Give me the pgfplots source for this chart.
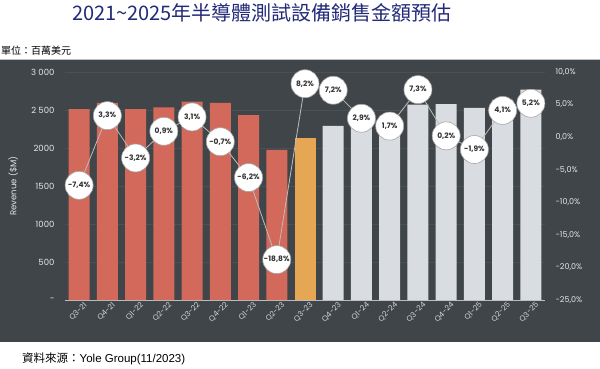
\documentclass[border=0pt]{standalone}
\usepackage{pgfplots}
\pgfplotsset{compat=1.18}
\usepackage{fontspec}
\setmainfont{Poppins}
\newfontfamily\cjk{Noto Sans CJK TC}
\newfontfamily\arial{Liberation Sans}
\definecolor{panel}{HTML}{3F4549}
\definecolor{gridc}{HTML}{4A5155}
\definecolor{barred}{HTML}{D2695B}
\definecolor{barorange}{HTML}{E6A754}
\definecolor{bargray}{HTML}{D9DCE0}
\definecolor{ticktext}{HTML}{E4E6E8}
\definecolor{titlenavy}{HTML}{232A7A}
\definecolor{linegray}{HTML}{BDBDBD}
\begin{document}
\begin{tikzpicture}[x=1pt,y=1pt]
\path[use as bounding box] (0,0) rectangle (600,368);
\fill[white] (0,0) rectangle (600,368);
\fill[panel] (0,26) rectangle (600,309);
\draw[gray!50, line width=0.8pt] (0,309) -- (600,309);
\node[font=\cjk\fontsize{20}{20}\selectfont, text=titlenavy] at (262,355) {2021\textasciitilde 2025年半導體測試設備銷售金額預估};
\node[anchor=west, font=\cjk\fontsize{10}{10}\selectfont, inner sep=0pt] at (1,317) {單位：百萬美元};
\node[anchor=west, inner sep=0pt] at (22,9) {{\cjk\fontsize{11.5}{12}\selectfont 資料來源：}{\arial\fontsize{11.5}{12}\selectfont Yole Group(11/2023)}};

\begin{axis}[
  at={(65pt,68pt)}, anchor=south west,
  scale only axis, width=480pt, height=228pt,
  xmin=-0.5, xmax=16.5, ymin=0, ymax=3000,
  axis x line*=bottom, axis y line*=left,
  x axis line style={draw=linegray, line width=0.6pt},
  y axis line style={draw=none},
  ymajorgrids, grid style={gridc, line width=0.5pt},
  major tick length=0pt,
  ytick={0,500,1000,1500,2000,2500,3000},
  yticklabels={-,500,1000,1500,2000,2 500,3 000},
  yticklabel style={font=\fontsize{8.5}{8.5}\selectfont, text=ticktext, anchor=east, xshift=-7pt},
  xtick={0,...,16},
  xticklabels={Q3-21,Q4-21,Q1-22,Q2-22,Q3-22,Q4-22,Q1-23,Q2-23,Q3-23,Q4-23,Q1-24,Q2-24,Q3-24,Q4-24,Q1-25,Q2-25,Q3-25},
  xticklabel style={font=\fontsize{7.5}{7.5}\selectfont, text=ticktext!85!gray, rotate=45, anchor=north east, xshift=3pt, yshift=-3pt, inner sep=1pt},
  ylabel={Revenue (\$M)},
  ylabel style={font=\fontsize{8.5}{8.5}\selectfont, text=ticktext, at={(axis description cs:-0.108,0.5)}, anchor=center, rotate=0},
  /pgf/number format/assume math mode=true,
  ybar, bar width=21pt,
]
\addplot[fill=barred, draw=none, bar shift=0pt] coordinates {(0,2510) (1,2593) (2,2510) (3,2533) (4,2611) (5,2593) (6,2432) (7,1975)};
\addplot[fill=barorange, draw=none, bar shift=0pt] coordinates {(8,2137)};
\addplot[fill=bargray, draw=none, bar shift=0pt] coordinates {(9,2291) (10,2357) (11,2397) (12,2572) (13,2577) (14,2528) (15,2632) (16,2769)};
\end{axis}

\begin{axis}[
  at={(65pt,68pt)}, anchor=south west,
  scale only axis, width=480pt, height=228pt,
  xmin=-0.5, xmax=16.5, ymin=-25, ymax=10,
  axis y line*=right, axis x line=none,
  y axis line style={draw=none},
  major tick length=0pt,
  ytick={-25,-20,-15,-10,-5,0,5,10},
  yticklabels={-25{,}0\%,-20{,}0\%,-15{,}0\%,-10{,}0\%,-5{,}0\%,0{,}0\%,5{,}0\%,10{,}0\%},
  yticklabel style={font=\fontsize{8}{8}\selectfont, text=ticktext, anchor=west, xshift=7pt},
  /pgf/number format/assume math mode=true,
  clip=false,
]
\addplot[linegray, line width=0.8pt, mark=none,
  point meta=explicit symbolic,
  nodes near coords,
  every node near coord/.append style={anchor=center, circle, fill=white, draw=gray!70, line width=0.6pt, minimum size=28pt, inner sep=0pt, font=\bfseries\fontsize{7.5}{7.5}\selectfont, text=black!80},
] coordinates {
(0,-7.4) [{-7,4\%}]
(1,3.3) [{3,3\%}]
(2,-3.2) [{-3,2\%}]
(3,0.9) [{0,9\%}]
(4,3.1) [{3,1\%}]
(5,-0.7) [{-0,7\%}]
(6,-6.2) [{-6,2\%}]
(7,-18.8) [{-18,8\%}]
(8,8.2) [{8,2\%}]
(9,7.2) [{7,2\%}]
(10,2.9) [{2,9\%}]
(11,1.7) [{1,7\%}]
(12,7.3) [{7,3\%}]
(13,0.2) [{0,2\%}]
(14,-1.9) [{-1,9\%}]
(15,4.1) [{4,1\%}]
(16,5.2) [{5,2\%}]
};
\end{axis}
\end{tikzpicture}
\end{document}
